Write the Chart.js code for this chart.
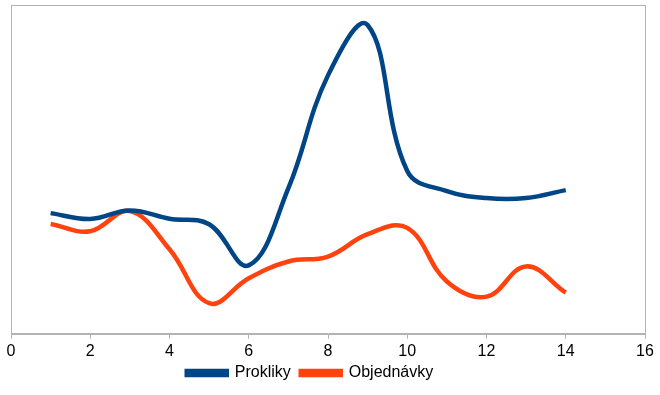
<!DOCTYPE html>
<html>
<head>
<meta charset="utf-8">
<script src="https://cdn.jsdelivr.net/npm/chart.js@4"></script>
<style>
html,body{margin:0;padding:0;background:#fff;}
#wrap{width:660px;height:395px;}
</style>
</head>
<body>
<div id="wrap"><canvas id="c" width="660" height="395"></canvas></div>
<script>
const xValues = [1,2,3,4,5,6,7,8,9,10,11,12,13,14];
const prokliky = [36.7,34.9,37.5,35.0,33.3,20.8,44.3,78.6,93.9,49.5,43.4,41.3,41.3,43.7];
const objednavky = [33.4,31.2,37.3,25.7,9.3,16.9,22.0,23.5,30.3,32.2,15.9,11.3,20.5,12.5];
const seriesNames = ['Prokliky','Objednávky'];
const xTicks = [0,2,4,6,8,10,12,14,16];

const toPts = arr => arr.map((v,i)=>({x:xValues[i], y:v}));

const frame = {
  id:'frame',
  afterLayout(chart){
    const lg = chart.legend;
    if (lg) { lg.top -= 9; lg.bottom -= 9; lg.left -= 18; lg.right -= 18; }
  },
  afterDraw(chart){
    const a = chart.chartArea, ctx = chart.ctx;
    ctx.save();
    ctx.strokeStyle = '#b3b3b3';
    ctx.lineWidth = 1;
    ctx.strokeRect(Math.round(a.left)+0.5, Math.round(a.top)+0.5, Math.round(a.right-a.left), Math.round(a.bottom-a.top));
    ctx.restore();
  }
};

new Chart(document.getElementById('c'), {
  type:'line',
  data:{
    datasets:[
      {label:seriesNames[0], data:toPts(prokliky), borderColor:'#004586', backgroundColor:'#004586', borderWidth:4.5, pointRadius:0, tension:0.4, fill:false},
      {label:seriesNames[1], data:toPts(objednavky), borderColor:'#ff420e', backgroundColor:'#ff420e', borderWidth:4.5, pointRadius:0, tension:0.4, fill:false}
    ]
  },
  options:{
    responsive:false,
    animation:false,
    layout:{padding:{left:11, right:15, top:5, bottom:-5}},
    plugins:{
      legend:{
        position:'bottom',
        labels:{
          boxWidth:40, boxHeight:4, padding:10,
          color:'#000',
          font:{family:'"Liberation Sans", Arial, sans-serif', size:16}
        }
      },
      tooltip:{enabled:false}
    },
    scales:{
      x:{
        type:'linear', min:0, max:16,
        afterBuildTicks(s){ s.ticks = xTicks.map(v=>({value:v})); },
        ticks:{color:'#000', padding:3, font:{family:'"Liberation Sans", Arial, sans-serif', size:16}},
        grid:{drawOnChartArea:false, drawTicks:true, tickLength:5, color:'#b3b3b3'},
        border:{display:true, color:'#b3b3b3'}
      },
      y:{
        min:0, max:100,
        ticks:{display:false},
        grid:{display:false, drawTicks:false},
        border:{display:true, color:'#b3b3b3'}
      }
    }
  },
  plugins:[frame]
});
</script>
</body>
</html>
